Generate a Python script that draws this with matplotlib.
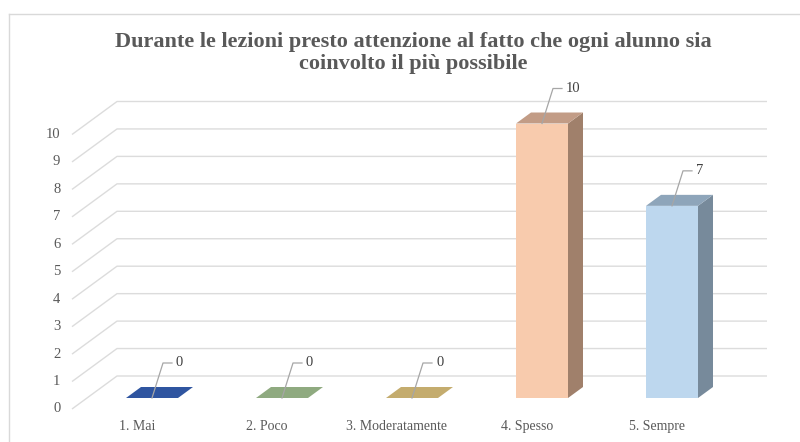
import matplotlib
matplotlib.use("Agg")
import matplotlib.pyplot as plt
from matplotlib.patches import Polygon
from matplotlib.lines import Line2D

# ---- data ----
categories = ["1. Mai", "2. Poco", "3. Moderatamente", "4. Spesso", "5. Sempre"]
values = [0, 0, 0, 10, 7]
yticks = list(range(0, 11))
title = "Durante le lezioni presto attenzione al fatto che ogni alunno sia\ncoinvolto il più possibile"

front_colors = ["#4472C4", "#A9D18E", "#FFD966", "#F8CBAD", "#BDD7EE"]
top_colors = ["#2F55A0", "#8FAA80", "#C4AC6E", "#C29C86", "#8EA5BA"]
side_colors = ["#2A4B85", "#7E966F", "#A99459", "#A0806B", "#778A9B"]

# ---- layout / projection ----
W, H = 800, 442
PX_CAT = 130.0      # pixels per category
PX_VAL = 27.45      # pixels per value unit
X0, Y0 = 72.0, 409.0  # pixel of front-left floor corner
DX = 45.0 / PX_CAT  # depth offset in category units
DY = 33.0 / PX_VAL  # depth offset in value units


def proj(c, v, d):
    return (c + DX * d, v + DY * d)


plt.rcParams['font.family'] = ['Liberation Serif', 'DejaVu Serif']
fig = plt.figure(figsize=(W / 100, H / 100), dpi=100)
ax = fig.add_axes([0, 0, 1, 1])
ax.set_xlim(-X0 / PX_CAT, (W - X0) / PX_CAT)
ax.set_ylim((Y0 - H) / PX_VAL, Y0 / PX_VAL)
ax.axis('off')

# chart border (top and left)
fig.add_artist(Line2D([9 / W, 9 / W], [0, 1 - 14 / H], transform=fig.transFigure,
                      color="#d9d9d9", lw=1))
fig.add_artist(Line2D([9 / W, 1], [1 - 14 / H, 1 - 14 / H], transform=fig.transFigure,
                      color="#d9d9d9", lw=1))

ncat = len(categories)
grid_c = "#dcdcdc"
for t in yticks:
    p0 = proj(0, t, 0)
    p1 = proj(0, t, 1)
    p2 = proj(ncat, t, 1)
    ax.plot([p0[0], p1[0], p2[0]], [p0[1], p1[1], p2[1]], color=grid_c, lw=1.0,
            solid_capstyle='butt', zorder=1)
    ax.text(p0[0] - 0.09, t, str(t), ha='right', va='center', fontsize=10.5,
            color="#595959")

bw = 0.4
d0, d1 = 1 / 3, 2 / 3
for i, (v, cat) in enumerate(zip(values, categories)):
    cl, cr = i + 0.5 - bw / 2, i + 0.5 + bw / 2
    if v > 0:
        front = [proj(cl, 0, d0), proj(cr, 0, d0), proj(cr, v, d0), proj(cl, v, d0)]
        ax.add_patch(Polygon(front, closed=True, fc=front_colors[i], ec='none', zorder=3))
        side = [proj(cr, 0, d0), proj(cr, 0, d1), proj(cr, v, d1), proj(cr, v, d0)]
        ax.add_patch(Polygon(side, closed=True, fc=side_colors[i], ec='none', zorder=3))
    top = [proj(cl, v, d0), proj(cr, v, d0), proj(cr, v, d1), proj(cl, v, d1)]
    ax.add_patch(Polygon(top, closed=True, fc=top_colors[i], ec='none', zorder=3))

    # category label at front edge
    ax.text(i + 0.5, -0.62, cat, ha='center', va='center', fontsize=10, color="#595959")

    # leader line + value label
    sx, sy = proj(i + 0.5, v, d0)
    ex, ey = sx + 11 / PX_CAT, sy + 35 / PX_VAL
    hx = ex + 9 / PX_CAT
    ax.plot([sx, ex, hx], [sy, ey, ey], color="#a6a6a6", lw=0.9, zorder=4)
    ax.text(hx + 4 / PX_CAT, ey, str(v), ha='left', va='center', fontsize=10.5,
            color="#404040", zorder=5)

fig.text(413 / W, 1 - 53 / H, title, ha='center', va='center', fontsize=16,
         fontweight='bold', color="#595959", linespacing=1.1)

fig.savefig("out.png", dpi=100)
